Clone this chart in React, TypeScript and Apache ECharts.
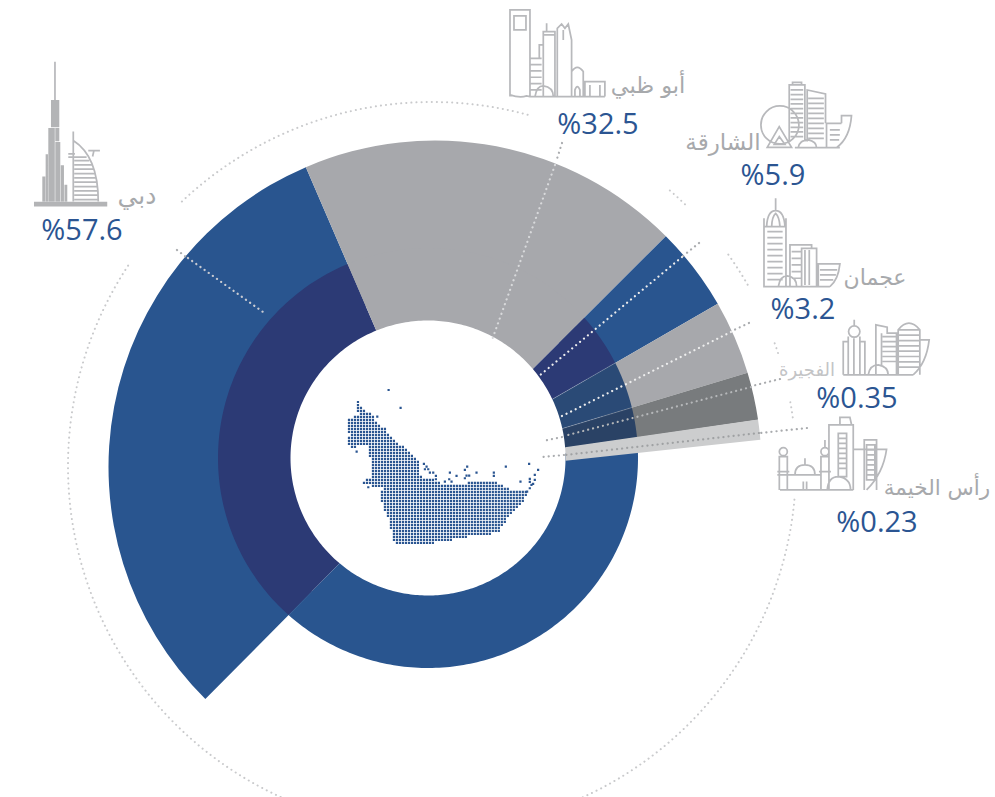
import React, { useEffect, useRef } from "react";
import * as echarts from "echarts";

// ---------- data ----------
const CITIES = ["دبي", "أبو ظبي", "الشارقة", "عجمان", "الفجيرة", "رأس الخيمة"];
const SHARES = ["%57.6", "%32.5", "%5.9", "%3.2", "%0.35", "%0.23"];
// angular sweep of each wedge (degrees, clockwise from the lower-left edge)
const WEDGE_SWEEPS = [112, 68.3, 15, 13.2, 8.5];
const WEDGE_GAP = 143;
const WEDGE_COLORS = ["#29558f", "#a7a8ac", "#29558f", "#a7a8ac", "#787b7d"];
const RING_COLORS = ["#2c3a75", "#a7a8ac", "#2c3a75", "#2a4a76", "#2a4265", "#29558f"];
const RING_REST_START = 6;
const RING_REST_SWEEP = 140.7;
const BAND_ANGLES = [8.25, 6.15];

// ---------- geometry ----------
const START = 225.3;
const C_OUT = [435, 467];
const C_IN = [428, 458];
const APEX = [202, 500];
const R_OUT = 326.5;
const R_RING = 210;
const R_HOLE = 137.5;

function hit(o: number[], deg: number, c: number[], r: number) {
  const a = (deg * Math.PI) / 180;
  const d = [Math.cos(a), -Math.sin(a)];
  const f = [o[0] - c[0], o[1] - c[1]];
  const b = f[0] * d[0] + f[1] * d[1];
  const q = f[0] * f[0] + f[1] * f[1] - r * r;
  const t = -b + Math.sqrt(b * b - q);
  return [o[0] + t * d[0], o[1] + t * d[1]];
}

function sector(o: number[], a0: number, a1: number, cO: number[], rO: number, cI: number[], rI: number) {
  const n = Math.max(2, Math.ceil(Math.abs(a1 - a0)));
  const pts: number[][] = [];
  for (let i = 0; i <= n; i++) pts.push(hit(o, a0 + ((a1 - a0) * i) / n, cO, rO));
  for (let i = n; i >= 0; i--) pts.push(hit(o, a0 + ((a1 - a0) * i) / n, cI, rI));
  return pts;
}

// ---------- icon paths, in 3x crop units ----------
const R = (a: number, b: number, c: number, d: number) => `M${a} ${b}H${c}V${d}H${a}Z`;
const circ = (x: number, y: number, r: number) => `M${x + r} ${y}A${r} ${r} 0 1 0 ${x - r} ${y}A${r} ${r} 0 1 0 ${x + r} ${y}Z`;
const hl = (a: number, b: number, y0: number, y1: number, s: number) => {
  let d = "";
  for (let y = y0; y <= y1; y += s) d += `M${a} ${y}H${b}`;
  return d;
};

const ICON_DUBAI_FILL = [
  R(93, 150, 118, 232), R(85, 234, 104.5, 455), R(106, 234, 118, 274), R(106, 276, 121, 455),
  R(122.5, 346, 132, 455), R(77, 313, 84, 455), R(133.5, 405, 142, 455), R(67, 380, 76, 455), R(42, 456, 262, 470),
].join("");
const ICON_DUBAI =
  "M105 35V150M160 245V455M160 272Q235 320 235 455M145 312H165M145 322H200M205 302H240M222 302L218 320" +
  "M163 332H208M163 345H216M163 358H222M163 371H226M163 384H229M163 397H231M163 410H232M163 423H233M163 436H234M163 449H234";
const ICON_ABU =
  "M30 290V30H90V290M42 48H78V90H42ZM30 285Q60 295 80 288L90 290H315" + hl(90, 125, 175, 270, 19) +
  "M118 175V135H130M130 290V95H165V290M140 95V70M130 105H165" +
  "M172 290V85L185 72L195 85L205 72L215 120V215M190 90V120" +
  "M215 290V215Q232 190 250 215V290M225 290V270Q232 250 240 270V290" +
  "M255 290V245H315V290M270 255V290M300 255V290M105 290Q110 258 130 258Q160 262 160 290";
const ICON_SHARJAH =
  "M328 200V30H375V200M338 30V22H365V30" + hl(332, 370, 45, 185, 14) +
  "M382 200V45L437 57V145" + hl(385, 432, 70, 190, 15) +
  circ(300, 150, 57) + "M298 155L262 217H335ZM298 185L283 208H315Z" +
  "M355 218Q360 195 385 195Q410 200 410 218M440 218V145H485M450 165H480M450 180H480M450 195H478" +
  "M485 145V122H515Q510 190 470 218M345 218H480";
const ICON_AJMAN =
  "M42 290V110H108V290ZM50 110Q52 62 77 62Q102 62 105 110M77 25V62M65 110Q66 80 77 70Q88 80 90 110M42 85V110M108 85V110" +
  hl(52, 98, 125, 275, 18) +
  "M120 290V165H185V175M125 185H155M125 205H155M125 225H155M125 245H155M125 265H155" +
  "M155 290V175H200V290M165 180V285M178 180V285" +
  "M205 290V222H270Q265 270 240 290M210 240H262M210 255H258M210 270H250" +
  "M85 290Q90 258 112 258Q140 262 140 290M42 290H240";
const ICON_FUJ =
  circ(313, 425, 17) + "M313 390V408M280 555V455H295V440M345 555V455H330V440M295 455V555M330 455V555M312 445V555M280 555H490" +
  "M378 555V405L412 412V430H440V555M395 430V530" + hl(398, 438, 440, 525, 15) +
  "M445 555V420Q477 380 510 420V555" + hl(445, 510, 420, 545, 16) +
  "M510 450H538Q530 520 490 555M355 555Q360 525 385 525Q415 530 415 555";
const ICON_RAK =
  circ(40, 125, 12) + "M28 240V140H52V240M22 185H58M22 195H155M30 240H250" +
  "M75 195Q75 165 105 165Q135 165 135 195M105 145V165M100 215V240M110 215V240" +
  circ(165, 125, 12) + "M165 90V112M153 240V140H177V240M147 185H183" +
  "M177 200V45H250V240M210 45V22H240L245 45M205 70H230V200H205ZM205 85H230M205 100H230M205 115H230M205 130H230M205 145H230M205 160H230M205 175H230" +
  "M283 240V90H320V240M290 105H315V210H290ZM290 120H315M290 135H315M290 150H315M290 165H315M290 180H315M290 195H315" +
  "M250 118H350Q340 190 290 240M172 240Q175 200 205 200Q242 205 242 240";

// ---------- dotted map outline and islands, in 3x crop units ----------
const MAP_OUTLINE = [
  [78, 58], [92, 58], [92, 80], [105, 95], [130, 105], [140, 130], [165, 145], [180, 165], [205, 190], [240, 215],
  [265, 240], [270, 280], [280, 295], [310, 300], [340, 315], [385, 315], [430, 305], [500, 305], [530, 325], [590, 335],
  [590, 350], [565, 380], [530, 420], [505, 460], [420, 470], [370, 480], [310, 490], [240, 497], [195, 497], [185, 465],
  [180, 430], [160, 385], [150, 340], [160, 325], [110, 315], [95, 312], [105, 295], [125, 290], [122, 235], [115, 232],
  [120, 205], [105, 195], [85, 195], [75, 210], [60, 205], [50, 185], [60, 160], [50, 150], [55, 120], [85, 105], [78, 80],
];
const MAP_ISLANDS = [
  [176, 30], [212, 84], [142, 110], [282, 252], [290, 260], [285, 268], [295, 268], [300, 278], [310, 278], [318, 288],
  [318, 298], [360, 278], [380, 288], [412, 260], [405, 270], [418, 287], [410, 287], [405, 295], [440, 278], [492, 278],
  [492, 288], [528, 260], [572, 305], [598, 252], [625, 270], [615, 285], [615, 300], [600, 297], [605, 315], [345, 305],
  [358, 298], [365, 305], [115, 322], [80, 215], [600, 306], [610, 312], [600, 325], [592, 335],
];
function inside(x: number, y: number) {
  let c = false;
  for (let i = 0, j = MAP_OUTLINE.length - 1; i < MAP_OUTLINE.length; j = i++) {
    const [xi, yi] = MAP_OUTLINE[i];
    const [xj, yj] = MAP_OUTLINE[j];
    if (yi > y !== yj > y && x < ((xj - xi) * (y - yi)) / (yj - yi) + xi) c = !c;
  }
  return c;
}
function mapPath() {
  let d = "";
  const s = 3.3;
  for (let y = 57; y < 505; y += 9) {
    for (let x = 48; x < 600; x += 9) {
      if (inside(x, y)) d += R(x - s, y - s, x + s, y + s);
    }
  }
  MAP_ISLANDS.forEach(([x, y]) => (d += R(x - s, y - s, x + s, y + s)));
  return d;
}

const reg = (n: string, d: string) => echarts.graphic.registerShape(n, echarts.graphic.extendPath(d, {}));
reg("iDubaiFill", ICON_DUBAI_FILL);
reg("iDubai", ICON_DUBAI);
reg("iAbu", ICON_ABU);
reg("iSharjah", ICON_SHARJAH);
reg("iAjman", ICON_AJMAN);
reg("iFuj", ICON_FUJ);
reg("iRak", ICON_RAK);
reg("iMap", mapPath());

const GRAY = "#b8b9bc";
const BLUE = "#2b5592";
const TEXT = "#a7a9ac";

const icon = (type: string, x: number, y: number) => ({
  type, x, y, scaleX: 1 / 3, scaleY: 1 / 3, z: 10, silent: true,
  style: { fill: "none", stroke: GRAY, lineWidth: 5.2 },
});

const dotted = (x1: number, y1: number, x2: number, y2: number, stroke: string) => ({
  type: "line", z: 9, silent: true,
  shape: { x1, y1, x2, y2 },
  style: { stroke, lineWidth: 2.2, lineDash: [0.1, 5], lineCap: "round" },
});

const arcDeg = (a: number, b: number) => ({
  type: "arc", z: 1, silent: true,
  shape: { cx: 432, cy: 466, r: 364, startAngle: (a * Math.PI) / 180, endAngle: (b * Math.PI) / 180, clockwise: true },
  style: { stroke: "#c9cacc", lineWidth: 2, lineDash: [0.1, 5], lineCap: "round", fill: "none" },
});

const label = (text: string, x: number, y: number, size: number, fill: string, family: string) => ({
  type: "text", z: 11, silent: true,
  style: { text, x, y, fill, fontSize: size, fontFamily: family, textAlign: "center", textVerticalAlign: "middle" },
});

const AR = '"DejaVu Sans", "Noto Sans", sans-serif';
const NUM = '"Open Sans", "Noto Sans", sans-serif';

function buildOption() {
  const edges = [START];
  WEDGE_SWEEPS.forEach((s) => edges.push(edges[edges.length - 1] - s));
  const ringData = WEDGE_SWEEPS.map((_, i) => [edges[i], edges[i + 1]]);
  ringData.push([RING_REST_START, RING_REST_START - RING_REST_SWEEP]);

  return {
    animation: false,
    series: [
      {
        type: "pie",
        z: 1,
        silent: true,
        center: C_OUT,
        radius: [175, R_OUT],
        startAngle: START,
        clockwise: true,
        label: { show: false },
        labelLine: { show: false },
        emphasis: { disabled: true },
        data: [
          ...WEDGE_SWEEPS.map((value, i) => ({ value, name: CITIES[i], itemStyle: { color: WEDGE_COLORS[i] } })),
          { value: WEDGE_GAP, name: "gap", itemStyle: { color: "transparent" } },
        ],
      },
      {
        type: "custom",
        z: 2,
        silent: true,
        coordinateSystem: "none",
        data: ringData,
        renderItem: (params: any, api: any) => {
          const a0 = api.value(0);
          const a1 = api.value(1);
          const fill = RING_COLORS[params.dataIndex];
          const children: any[] = [
            { type: "polygon", shape: { points: sector(C_OUT, a0, a1, C_IN, R_RING, C_IN, R_HOLE) }, style: { fill } },
          ];
          if (params.dataIndex === 3 || params.dataIndex === 4) {
            const p = hit(C_OUT, a0, C_IN, R_RING);
            const q = hit(C_OUT, a0, C_IN, R_HOLE);
            children.push({
              type: "line",
              shape: { x1: p[0], y1: p[1], x2: q[0], y2: q[1] },
              style: { stroke: "rgba(255,255,255,0.35)", lineWidth: 0.7 },
            });
          }
          return { type: "group", children };
        },
      },
      {
        type: "custom",
        z: 3,
        silent: true,
        coordinateSystem: "none",
        data: [BAND_ANGLES],
        renderItem: (_: any, api: any) => ({
          type: "polygon",
          shape: { points: sector(APEX, api.value(0), api.value(1), C_OUT, R_OUT, C_IN, R_HOLE) },
          style: { fill: "#cccdce" },
        }),
      },
    ],
    graphic: [
      { ...arcDeg(226.6, 286) },
      { ...arcDeg(310.8, 314.6) },
      { ...arcDeg(324.5, 330.2) },
      { ...arcDeg(340.3, 342.7) },
      { ...arcDeg(349.9, 352.8) },
      { ...arcDeg(5.3, 66) },
      { ...arcDeg(113, 213.6) },

      dotted(177, 250, 186, 257, "#a9abae"),
      dotted(188, 258, 263, 312, "#c9cbd2"),
      dotted(562, 143, 556, 162, "#a9abae"),
      dotted(555, 165, 492, 340, "#d8d9db"),
      dotted(699, 243, 683, 256, "#a9abae"),
      dotted(682, 257, 539, 376, "#eeeeee"),
      dotted(749, 323, 732, 331, "#a9abae"),
      dotted(731, 332, 560, 417, "#eeeeee"),
      dotted(780, 379, 752, 386, "#a9abae"),
      dotted(751, 387, 564, 436, "#b5b7b9"),
      dotted(562, 437, 543, 441, "#a9abae"),
      dotted(807, 428, 760, 433, "#a9abae"),
      dotted(759, 433, 565, 455, "#9fa1a3"),
      dotted(564, 455, 543, 457, "#a9abae"),

      {
        type: "iMap", x: 330, y: 380, scaleX: 1 / 3, scaleY: 1 / 3, z: 8, silent: true,
        style: { fill: "#2a5591", stroke: "none" },
      },

      { type: "iDubaiFill", x: 20, y: 50, scaleX: 1 / 3, scaleY: 1 / 3, z: 10, silent: true, style: { fill: "#b3b4b6", stroke: "none" } },
      icon("iDubai", 20, 50),
      icon("iAbu", 500, 0),
      icon("iSharjah", 680, 75),
      icon("iAjman", 750, 190),
      icon("iFuj", 750, 190),
      icon("iRak", 770, 410),

      label(CITIES[0], 137, 195, 25, TEXT, AR),
      label(SHARES[0], 82, 228, 29, BLUE, NUM),
      label(CITIES[1], 648, 85, 22.5, TEXT, AR),
      label(SHARES[1], 598, 122, 29, BLUE, NUM),
      label(CITIES[2], 723, 142, 23, TEXT, AR),
      label(SHARES[2], 773, 173, 29, BLUE, NUM),
      label(CITIES[3], 875, 277, 22, TEXT, AR),
      label(SHARES[3], 803, 307, 29, BLUE, NUM),
      label(CITIES[4], 807, 369, 18, "#c3c4c6", AR),
      label(SHARES[4], 857, 396, 29, BLUE, NUM),
      label(CITIES[5], 937, 487, 21.5, TEXT, AR),
      label(SHARES[5], 877, 520, 29, BLUE, NUM),
    ],
  };
}

export default function App() {
  const ref = useRef<HTMLDivElement>(null);
  useEffect(() => {
    const chart = echarts.init(ref.current!, null, { renderer: "svg" });
    chart.setOption(buildOption() as any);
    return () => chart.dispose();
  }, []);
  return (
    <div
      ref={ref}
      style={{ position: "absolute", left: 0, top: 0, width: 995, height: 797, background: "#fff", overflow: "hidden" }}
    />
  );
}
